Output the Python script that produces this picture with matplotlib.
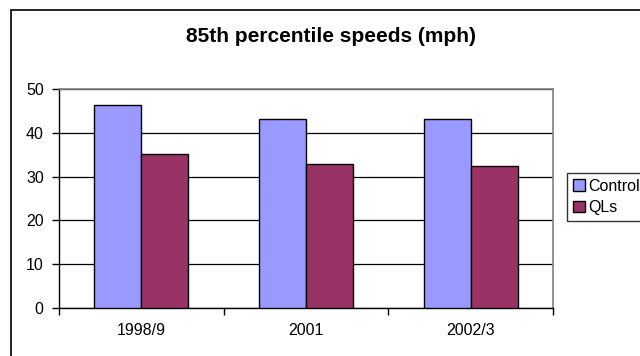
import matplotlib
matplotlib.use("Agg")
import matplotlib.pyplot as plt
from matplotlib.patches import Rectangle
import numpy as np

plt.rcParams['font.family'] = ['Liberation Sans', 'DejaVu Sans']

categories = ["1998/9", "2001", "2002/3"]
control = [46.3, 43.2, 43.1]
qls = [35.1, 32.9, 32.5]
series_names = ["Control", "QLs"]
colors = ["#9999FF", "#993366"]

W, H = 640, 356
fig = plt.figure(figsize=(W / 100, H / 100), dpi=100)

# outer chart-area frame
fig.patches.append(Rectangle((10.5 / W, -0.2), 1.0, (H - 10.5) / H + 0.2,
                             transform=fig.transFigure, fill=False,
                             edgecolor="black", lw=1.2))

ax = fig.add_axes([59 / W, 1 - 308 / H, (553 - 59) / W, (308 - 89) / H])

x = np.arange(len(categories))
bw = 0.285
ax.bar(x - bw / 2, control, width=bw, color=colors[0], edgecolor="black",
       linewidth=1.0, label=series_names[0], zorder=3)
ax.bar(x + bw / 2, qls, width=bw, color=colors[1], edgecolor="black",
       linewidth=1.0, label=series_names[1], zorder=3)

ax.set_xlim(-0.5, len(categories) - 0.5)
ax.set_ylim(0, 50)
ax.set_yticks(range(0, 51, 10))
ax.yaxis.grid(True, color="black", linewidth=0.9, zorder=0)

ax.set_xticks(x)
ax.set_xticklabels(categories, fontsize=11.5)
ax.tick_params(axis="x", length=0, pad=11)
ax.set_xticks(np.arange(-0.5, len(categories), 1.0), minor=True)
ax.tick_params(axis="x", which="minor", length=5, width=1, direction="out")
ax.tick_params(axis="y", length=5, width=1, direction="out", labelsize=11.5, pad=6)

for side in ("top", "right"):
    ax.spines[side].set_color("#808080")
    ax.spines[side].set_linewidth(1.2)
for side in ("left", "bottom"):
    ax.spines[side].set_color("black")
    ax.spines[side].set_linewidth(1.0)

fig.text(331 / W, 1 - 37 / H, "85th percentile speeds (mph)", ha="center",
         va="center", fontsize=15, fontweight="bold")

leg = fig.legend(loc="upper left", bbox_to_anchor=(567 / W, 1 - 173 / H),
                 bbox_transform=fig.transFigure, fontsize=11.5, frameon=True,
                 fancybox=False, edgecolor="black", handlelength=0.75,
                 handleheight=0.75, handletextpad=0.2, borderpad=0.35,
                 labelspacing=0.4, borderaxespad=0)
leg.get_frame().set_linewidth(1.0)

fig.savefig("out.png", dpi=100)
